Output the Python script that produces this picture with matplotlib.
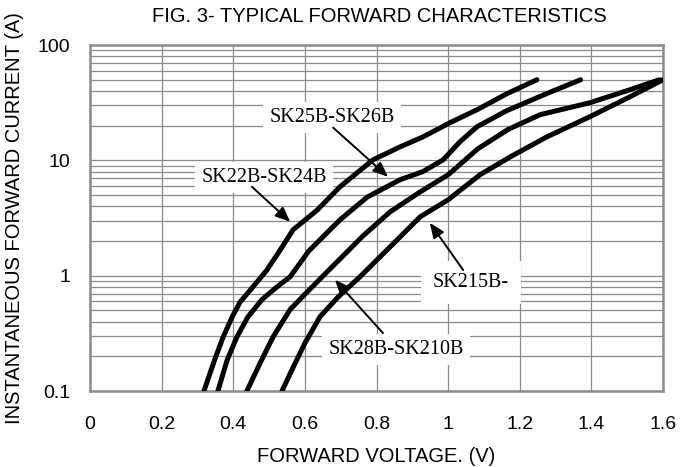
import matplotlib

matplotlib.use("Agg")

import matplotlib.pyplot as plt
from matplotlib.ticker import FixedLocator, FuncFormatter, LogLocator, NullFormatter

# forward voltage (V) / forward current (A)
SK22B_V = [0.318, 0.349, 0.371, 0.397, 0.419, 0.452, 0.494, 0.531, 0.567,
           0.634, 0.698, 0.790, 0.866, 0.930, 1.005, 1.081, 1.164, 1.248]
SK22B_I = [0.10, 0.19, 0.29, 0.44, 0.59, 0.78, 1.12, 1.67, 2.5,
           3.7, 5.9, 10.1, 13.1, 16.0, 21.2, 27.5, 37.8, 50]

SK25B_V = [0.357, 0.383, 0.410, 0.441, 0.480, 0.522, 0.559, 0.611, 0.698,
           0.774, 0.866, 0.930, 0.986, 1.033, 1.081, 1.164, 1.276, 1.370]
SK25B_I = [0.10, 0.186, 0.294, 0.44, 0.62, 0.80, 0.98, 1.64, 3.05,
           4.8, 6.8, 8.0, 10.1, 14.5, 19.6, 27, 38, 50]

SK28B_V = [0.438, 0.475, 0.511, 0.559, 0.600, 0.679, 0.762, 0.838, 0.922,
           1.000, 1.083, 1.167, 1.257, 1.396, 1.508, 1.590]
SK28B_I = [0.10, 0.175, 0.294, 0.51, 0.69, 1.22, 2.21, 3.58, 5.33,
           7.5, 12.6, 18.5, 24.9, 31.6, 41, 50]

SK215B_V = [0.536, 0.567, 0.600, 0.642, 0.692, 0.754, 0.838, 0.922, 1.000,
            1.089, 1.173, 1.276, 1.396, 1.508, 1.600]
SK215B_I = [0.10, 0.16, 0.26, 0.44, 0.65, 0.98, 1.78, 3.24, 4.55,
            7.5, 10.7, 16, 23.9, 35.6, 50]

X_TICKS = [0, 0.2, 0.4, 0.6, 0.8, 1, 1.2, 1.4, 1.6]
Y_TICKS = [0.1, 1, 10, 100]

# label text, label centre, arrow tail, arrow tip (data units), box pad
LABELS = [
    ("SK25B-SK26B", (0.676, 23.4), (0.679, 19.2), (0.832, 7.2), 0.3),
    ("SK22B-SK24B", (0.486, 7.06), (0.452, 5.9), (0.559, 2.93), 0.3),
    ("SK215B-", (1.064, 0.866), (1.042, 1.12), (0.949, 2.87), 0.6),
    ("SK28B-SK210B", (0.855, 0.227), (0.818, 0.318), (0.684, 0.92), 0.3),
]

SANS = ["Liberation Sans Narrow", "Liberation Sans", "DejaVu Sans"]
SERIF = ["Liberation Serif", "DejaVu Serif"]
GRID = "#8a8a8a"

fig = plt.figure(figsize=(6.8, 4.67), dpi=100, facecolor="white")
ax = fig.add_axes([0.1324, 0.1627, 0.8426, 0.7409])
ax.set_yscale("log")
ax.set_xlim(0, 1.6)
ax.set_ylim(0.1, 100)

ax.xaxis.set_major_locator(FixedLocator(X_TICKS))
ax.yaxis.set_major_locator(FixedLocator(Y_TICKS))
ax.yaxis.set_minor_locator(LogLocator(base=10, subs=range(2, 10)))
ax.yaxis.set_minor_formatter(NullFormatter())
ax.xaxis.set_major_formatter(FuncFormatter(lambda v, _: f"{v:g}"))
ax.yaxis.set_major_formatter(FuncFormatter(lambda v, _: f"{v:g}"))

ax.grid(True, which="major", color=GRID, linewidth=0.9, zorder=1)
ax.grid(True, which="minor", axis="y", color=GRID, linewidth=0.9, zorder=1)
ax.set_axisbelow(True)
ax.tick_params(which="both", length=0, labelsize=14, pad=14, colors="black")
ax.tick_params(axis="x", pad=18)
for lbl in ax.get_xticklabels() + ax.get_yticklabels():
    lbl.set_family(SANS)

for spine in ax.spines.values():
    spine.set_color("#8c8c8c")
    spine.set_linewidth(1.8)

for volts, amps in [(SK22B_V, SK22B_I), (SK25B_V, SK25B_I),
                    (SK28B_V, SK28B_I), (SK215B_V, SK215B_I)]:
    ax.plot(volts, amps, color="black", linewidth=3.6,
            solid_joinstyle="round", solid_capstyle="round", zorder=4)

for text, pos, tail, tip, pad in LABELS:
    ax.text(pos[0], pos[1], text, ha="center", va="center", fontsize=14.5,
            family=SERIF, zorder=3,
            bbox=dict(boxstyle=f"square,pad={pad}", facecolor="white",
                      edgecolor="none"))
    ax.annotate("", xy=tip, xytext=tail, zorder=5,
                arrowprops=dict(arrowstyle="-|>,head_length=0.9,head_width=0.38",
                                color="black", linewidth=1.4,
                                shrinkA=0, shrinkB=0))

fig.text(0.558, 0.965, "FIG. 3- TYPICAL FORWARD CHARACTERISTICS",
         ha="center", va="center", fontsize=14.5, family=SANS)
ax.set_xlabel("FORWARD VOLTAGE. (V)", fontsize=14.5, family=SANS, labelpad=10)
ax.set_ylabel("INSTANTANEOUS FORWARD CURRENT (A)", fontsize=14.5,
              family=SANS, labelpad=10)

fig.savefig("out.png", dpi=100)
plt.close(fig)
